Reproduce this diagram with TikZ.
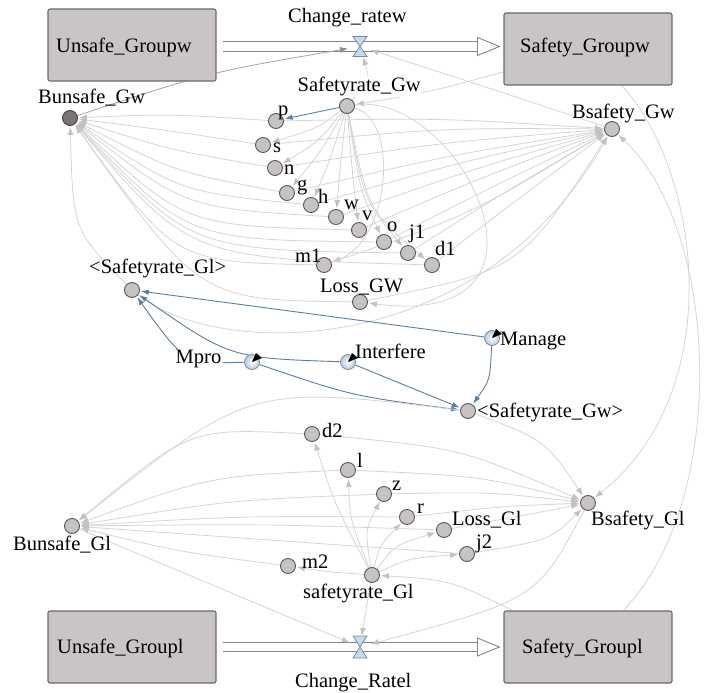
\documentclass[tikz,border=0pt]{standalone}
\usepackage{fontspec}
\setmainfont{Liberation Serif}
\usetikzlibrary{arrows.meta,calc}

\definecolor{stockfill}{HTML}{C9C5C4}
\definecolor{stockline}{HTML}{6E6A6A}
\definecolor{varfill}{HTML}{C7C3C2}
\definecolor{varline}{HTML}{5A5656}
\definecolor{darkfill}{HTML}{7A7474}
\definecolor{darkline}{HTML}{454141}
\definecolor{linkgray}{HTML}{D3D3D3}
\definecolor{headgray}{HTML}{C2C2C2}
\definecolor{flowgray}{HTML}{A4A4A4}
\definecolor{flowhead}{HTML}{8E8E8E}
\definecolor{linkblue}{HTML}{5E7E9C}
\definecolor{valvefill}{HTML}{C8DAEA}
\definecolor{valveline}{HTML}{7D8A97}
\definecolor{pipeline}{HTML}{858585}
\definecolor{auxfill}{HTML}{B4CAE0}

\pgfdeclarelayer{links}
\pgfsetlayers{links,main}

\tikzset{
  stock/.style={rectangle, rounded corners=2pt, draw=stockline, fill=stockfill,
    line width=1.1pt, minimum width=168pt, minimum height=72pt, inner sep=0pt},
  var/.style={circle, draw=varline, fill=varfill, line width=0.9pt,
    minimum size=15pt, inner sep=0pt},
  darkvar/.style={var, draw=darkline, fill=darkfill},
  auxvar/.style={circle, draw=varline!70, line width=0.8pt, inner color=white,
    outer color=auxfill, minimum size=15pt, inner sep=0pt},
  valvenode/.style={circle, minimum size=20pt, inner sep=0pt},
  valveshape/.style={draw=valveline, fill=valvefill, line width=0.8pt, line join=miter},
  txt/.style={inner sep=0pt, anchor=base west, font=\rmfamily\fontsize{20.5}{24}\selectfont},
  lk/.style={draw=linkgray, line width=0.75pt, shorten >=1pt,
    -{Latex[length=8pt,width=6pt,color=headgray]}},
  flowlk/.style={draw=flowgray, line width=0.8pt, shorten >=2pt,
    -{Latex[length=8pt,width=6pt,color=flowhead]}},
  bl/.style={draw=linkblue, line width=0.9pt, shorten >=1pt,
    -{Latex[length=8pt,width=5.5pt]}},
  pipe/.style={draw=pipeline, line width=1pt, double=white, double distance=8.5pt},
  pipehead/.style={draw=pipeline, fill=white, line width=0.9pt, line join=miter},
  hand/.style={fill=black}
}

\begin{document}
\begin{tikzpicture}[x=1pt,y=-1pt]
\useasboundingbox (0,0) rectangle (705,693);

% ---------- stocks and valves ----------
\node[stock] (unsafeGw) at (132,45) {};
\node[stock] (safetyGw) at (588,49) {};
\node[stock] (unsafeGl) at (132,647) {};
\node[stock] (safetyGl) at (588,647) {};
\node[valvenode] (valveW) at (360,46.5) {};
\node[valvenode] (valveL) at (360,647) {};

% ---------- variables ----------
\node[darkvar] (bunsafeGw) at (70,118) {};
\node[var] (srGw) at (347,106) {};
\node[var] (vp) at (276,121) {};
\node[var] (vs) at (263,145) {};
\node[var] (vn) at (275,168) {};
\node[var] (vg) at (287,193) {};
\node[var] (vh) at (311,205) {};
\node[var] (vw) at (336,217) {};
\node[var] (vv) at (359,230) {};
\node[var] (vo) at (384,242) {};
\node[var] (vj1) at (408,253) {};
\node[var] (vd1) at (432,265) {};
\node[var] (mone) at (324,265) {};
\node[var] (lossGw) at (360,302) {};
\node[var] (bsafetyGw) at (612,129) {};
\node[var] (refGl) at (132,290) {};
\node[auxvar] (mpro) at (252,362) {};
\node[auxvar] (interfere) at (348,362) {};
\node[auxvar] (manage) at (492,338) {};
\node[var] (refGw) at (468,411) {};
\node[var] (dtwo) at (312,434) {};
\node[var] (vl) at (348,470) {};
\node[var] (vz) at (384,494) {};
\node[var] (vr) at (407,517) {};
\node[var] (lossGl) at (444,530) {};
\node[var] (jtwo) at (467,554) {};
\node[var] (mtwo) at (288,566) {};
\node[var] (srGl) at (372,575) {};
\node[var] (bunsafeGl) at (72,526) {};
\node[var] (bsafetyGl) at (588,503) {};

% clock hands on the auxiliaries
\foreach \a in {mpro,interfere,manage}
  \fill[hand] ($(\a)+(0,0)$) -- ++(4,-9) -- ++(6,5) -- cycle;

% ---------- texts ----------
\node[txt] (tChangeW) at (288,23) {Change\_ratew};
\node[txt] (tUnsafeGw) at (56,53) {Unsafe\_Groupw};
\node[txt] (tSafetyGw) at (520,53) {Safety\_Groupw};
\node[txt] (tUnsafeGl) at (57,653) {Unsafe\_Groupl};
\node[txt] (tSafetyGl) at (522,653) {Safety\_Groupl};
\node[txt] (tChangeL) at (295,687) {Change\_Ratel};
\node[txt] (tBunsafeGw) at (38,104) {Bunsafe\_Gw};
\node[txt, fill=white, inner sep=0.5pt] (tSrGw) at (297,92) {Safetyrate\_Gw};
\node[txt] (tp) at (278,115) {p};
\node[txt] (ts) at (273,152) {s};
\node[txt] (tn) at (284,175) {n};
\node[txt] (tg) at (297,190) {g};
\node[txt] (th) at (318,203) {h};
\node[txt] (tw) at (344,209) {w};
\node[txt] (tv) at (362,220) {v};
\node[txt] (to) at (387,231) {o};
\node[txt] (tj1) at (409,238) {j1};
\node[txt] (td1) at (435,255) {d1};
\node[txt] (tm1) at (295,262) {m1};
\node[txt] (tLossGw) at (320,292) {Loss\_GW};
\node[txt] (tBsafetyGw) at (572,118) {Bsafety\_Gw};
\node[txt] (tRefGl) at (89,273) {\textless Safetyrate\_Gl\textgreater};
\node[txt, fill=white, inner sep=0.5pt] (tMpro) at (175,363) {Mpro};
\node[txt] (tInterfere) at (355,358) {Interfere};
\node[txt] (tManage) at (500,345) {Manage};
\node[txt] (tRefGw) at (477,417) {\textless Safetyrate\_Gw\textgreater};
\node[txt] (td2) at (322,437) {d2};
\node[txt] (tl) at (357,467) {l};
\node[txt] (tz) at (392,490) {z};
\node[txt] (tr) at (417,513) {r};
\node[txt] (tLossGl) at (452,525) {Loss\_Gl};
\node[txt] (tj2) at (476,548) {j2};
\node[txt] (tm2) at (302,568) {m2};
\node[txt] (tSrGl) at (303,598) {safetyrate\_Gl};
\node[txt] (tBunsafeGl) at (13,550) {Bunsafe\_Gl};
\node[txt] (tBsafetyGl) at (591,525) {Bsafety\_Gl};

\begin{pgfonlayer}{links}
% ---------- flow pipes ----------
\draw[pipe, shorten <=6pt, shorten >=26pt] (unsafeGw.east |- valveW) -- (safetyGw.west |- valveW);
\draw[pipehead] ($(safetyGw.west |- valveW)+(-4,0)$) -- ++(-22,-9) -- ++(0,18) -- cycle;
\draw[pipe, shorten <=6pt, shorten >=26pt] (unsafeGl.east |- valveL) -- (safetyGl.west |- valveL);
\draw[pipehead] ($(safetyGl.west |- valveL)+(-4,0)$) -- ++(-22,-9) -- ++(0,18) -- cycle;

% ---------- upper sector ----------
\draw[flowlk] (bunsafeGw) .. controls (210,72) .. (valveW);
\draw[lk] (bsafetyGw) .. controls (480,85) .. (valveW);
\draw[lk] (srGw) .. controls (370,80) .. (valveW);
\draw[lk] (safetyGw) .. controls (430,92) .. (srGw);
\draw[bl] (srGw) .. controls (315,112) .. (vp);
\foreach \t/\cx/\cy in {vs/318/128, vn/318/142, vg/322/150, vh/330/160, vw/340/168,
    vv/352/170, vo/360/190, vj1/364/200, vd1/368/210}
  \draw[lk] (srGw) .. controls (\cx,\cy) .. (\t);
\draw[lk] (srGw) .. controls (400,120) and (390,240) .. (mone);
\draw[lk] (srGw) .. controls (460,90) and (580,330) .. (lossGw);
\foreach \t/\cx/\cy in {vp/170/114, vs/165/130, vn/170/150, vg/175/172, vh/180/192,
    vw/185/208, vv/185/226, vo/188/240, vj1/190/250, vd1/190/258, mone/175/262, lossGw/200/300}
  \draw[lk] (\t) .. controls (\cx,\cy) .. (bunsafeGw);
\foreach \t/\cx/\cy in {vp/440/118, vs/440/128, vn/445/142, vg/450/155, vh/460/162,
    vw/470/170, vv/480/178, vo/490/188, vj1/500/195, vd1/510/205, mone/470/215, lossGw/520/270}
  \draw[lk] (\t) .. controls (\cx,\cy) .. (bsafetyGw);
\draw[lk] (refGl) .. controls (73,230) .. (bunsafeGw);
\draw[lk] (refGl) .. controls (220,360) and (480,360) .. (bsafetyGw);

% ---------- auxiliaries ----------
\draw[bl] (manage) -- (refGl);
\draw[bl] (interfere) .. controls (230,358) .. (refGl);
\draw[bl] (mpro) .. controls (185,364) .. (refGl);
\draw[bl] (mpro) .. controls (352,396) .. (refGw);
\draw[bl] (interfere) -- (refGw);
\draw[bl] (manage) .. controls (490,380) .. (refGw);

% ---------- lower sector ----------
\draw[lk] (refGw) .. controls (545,440) .. (bsafetyGl);
\draw[lk] (refGw) .. controls (250,385) .. (bunsafeGl);
\draw[lk] (safetyGw) .. controls (700,170) and (730,390) .. (bsafetyGl);
\draw[lk] (safetyGl) .. controls (730,500) and (720,230) .. (bsafetyGw);
\draw[lk] (safetyGl) .. controls (450,580) .. (srGl);
\draw[lk] (bsafetyGl) .. controls (537,599) .. (valveL);
\draw[lk] (srGl) .. controls (366,610) .. (valveL);
\draw[lk] (bunsafeGl) -- (valveL);
\foreach \t/\cx/\cy in {dtwo/335/505, vl/350/520, vz/365/530, vr/380/545,
    lossGl/395/545, jtwo/410/558, mtwo/330/572}
  \draw[lk] (srGl) .. controls (\cx,\cy) .. (\t);
\foreach \t/\cx/\cy in {dtwo/190/428, vl/210/476, vz/230/500, vr/240/516,
    lossGl/260/524, jtwo/270/540, mtwo/180/552}
  \draw[lk] (\t) .. controls (\cx,\cy) .. (bunsafeGl);
\foreach \t/\cx/\cy in {dtwo/460/448, vl/480/476, vz/490/492, vr/505/506,
    lossGl/520/516, jtwo/550/540}
  \draw[lk] (\t) .. controls (\cx,\cy) .. (bsafetyGl);
\end{pgfonlayer}

% ---------- valve glyphs ----------
\draw[valveshape] ($(valveW)+(-7,-10)$) -- ++(14,0) -- ++(-14,20) -- ++(14,0) -- cycle;
\draw[valveshape] ($(valveL)+(-7,-11)$) -- ++(14,0) -- ++(-14,22) -- ++(14,0) -- cycle;
\end{tikzpicture}
\end{document}
